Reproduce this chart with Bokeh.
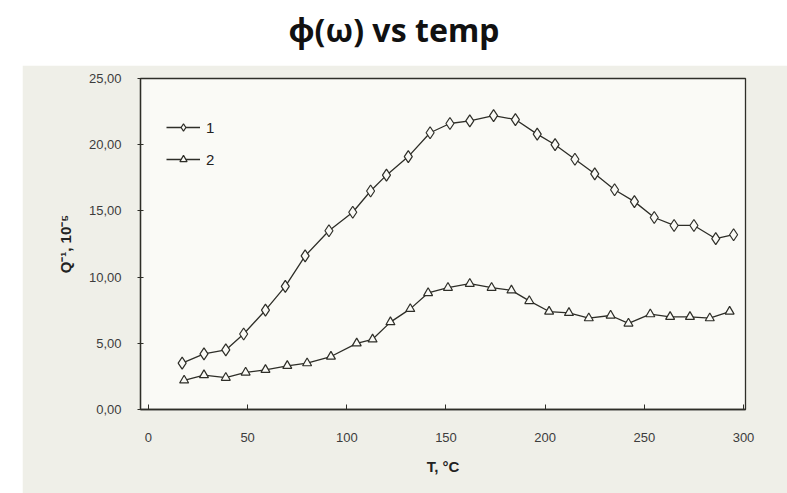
from bokeh.plotting import figure
from bokeh.models import Legend, LegendItem, FixedTicker, Spacer
from bokeh.layouts import column, row
from bokeh.embed import file_html
from bokeh.resources import INLINE

TITLE = "ϕ(ω) vs temp"
X_LABEL = "T, °C"
Y_LABEL = "Q⁻¹, 10⁻⁵"

x_ticks = [0, 50, 100, 150, 200, 250, 300]
y_ticks = [0, 5, 10, 15, 20, 25]
y_tick_labels = ["0,00", "5,00", "10,00", "15,00", "20,00", "25,00"]

series_names = ["1", "2"]

T1 = [17, 28, 39, 48, 59, 69, 79, 91, 103, 112, 120, 131, 142, 152,
      162, 174, 185, 196, 205, 215, 225, 235, 245, 255, 265, 275, 286, 295]
Q1 = [3.5, 4.2, 4.5, 5.7, 7.5, 9.3, 11.6, 13.5, 14.9, 16.5, 17.7, 19.1, 20.9, 21.6,
      21.8, 22.2, 21.9, 20.8, 20.0, 18.9, 17.8, 16.6, 15.7, 14.5, 13.9, 13.9, 12.9, 13.2]

T2 = [18, 28, 39, 49, 59, 70, 80, 92, 105, 113, 122, 132, 141, 151,
      162, 173, 183, 192, 202, 212, 222, 233, 242, 253, 263, 273, 283, 293]
Q2 = [2.2, 2.6, 2.4, 2.8, 3.0, 3.3, 3.5, 4.0, 5.0, 5.3, 6.6, 7.6, 8.8, 9.2,
      9.5, 9.2, 9.0, 8.2, 7.4, 7.3, 6.9, 7.1, 6.5, 7.2, 7.0, 7.0, 6.9, 7.4]

PAPER = "#efefe8"
INNER = "#fafaf6"
INK = "#2e2e28"

# ---- title strip ----
tf = figure(width=787, height=65, toolbar_location=None, output_backend="svg",
            title=TITLE, min_border=0, min_border_top=50,
            x_range=(0, 1), y_range=(0, 1))
tf.axis.visible = False
tf.grid.visible = False
tf.outline_line_color = None
tf.background_fill_color = "white"
tf.border_fill_color = "white"
tf.title.text_font = "Noto Sans"
tf.title.text_font_size = "32px"
tf.title.text_font_style = "bold"
tf.title.text_color = "#111111"
tf.title.align = "center"
tf.title.standoff = 0

# ---- main plot ----
p = figure(width=765, height=428, toolbar_location=None, output_backend="svg",
           x_range=(-4, 301), y_range=(0, 25),
           min_border_left=118, min_border_right=42,
           min_border_top=13, min_border_bottom=84)
p.background_fill_color = INNER
p.border_fill_color = PAPER
p.outline_line_color = INK
p.outline_line_width = 1.3
p.grid.visible = False

r1l = p.line(T1, Q1, line_color=INK, line_width=1.3)
r1m = p.scatter(T1, Q1, marker="diamond", size=12, line_color=INK,
                fill_color=INNER, line_width=1.2)
r2l = p.line(T2, Q2, line_color=INK, line_width=1.3)
r2m = p.scatter(T2, Q2, marker="triangle", size=9, line_color=INK,
                fill_color=INNER, line_width=1.2)

p.xaxis.ticker = FixedTicker(ticks=x_ticks)
p.yaxis.ticker = FixedTicker(ticks=y_ticks)
p.yaxis.major_label_overrides = {t: l for t, l in zip(y_ticks, y_tick_labels)}
p.xaxis.axis_label = X_LABEL
p.yaxis.axis_label = Y_LABEL

for ax in (p.xaxis[0], p.yaxis[0]):
    ax.axis_line_color = INK
    ax.axis_line_width = 1.3
    ax.major_tick_line_color = INK
    ax.minor_tick_line_color = None
    ax.major_label_text_font = "Liberation Sans"
    ax.major_label_text_font_size = "13px"
    ax.major_label_text_color = "#3c3c3c"
    ax.axis_label_text_font = "Liberation Sans"
    ax.axis_label_text_font_size = "15px"
    ax.axis_label_text_font_style = "bold"
    ax.axis_label_text_color = "#222222"

p.xaxis.major_tick_in = 5
p.xaxis.major_tick_out = 0
p.xaxis.major_label_standoff = 23
p.xaxis.axis_label_standoff = 13
p.yaxis.major_tick_in = 3
p.yaxis.major_tick_out = 3
p.yaxis.major_label_standoff = 16
p.yaxis.axis_label_standoff = 12

legend = Legend(items=[LegendItem(label=series_names[0], renderers=[r1l, r1m]),
                       LegendItem(label=series_names[1], renderers=[r2l, r2m])],
                location=(26, 241), orientation="vertical")
legend.border_line_color = None
legend.background_fill_alpha = 0
legend.padding = 0
legend.spacing = 14
legend.glyph_width = 34
legend.glyph_height = 18
legend.label_standoff = 6
legend.label_text_font = "Liberation Sans"
legend.label_text_font_size = "15px"
legend.label_text_color = "#222222"
p.add_layout(legend)

layout = column(tf, row(Spacer(width=22, height=428), p))
open("out.html", "w").write(file_html(layout, INLINE))
